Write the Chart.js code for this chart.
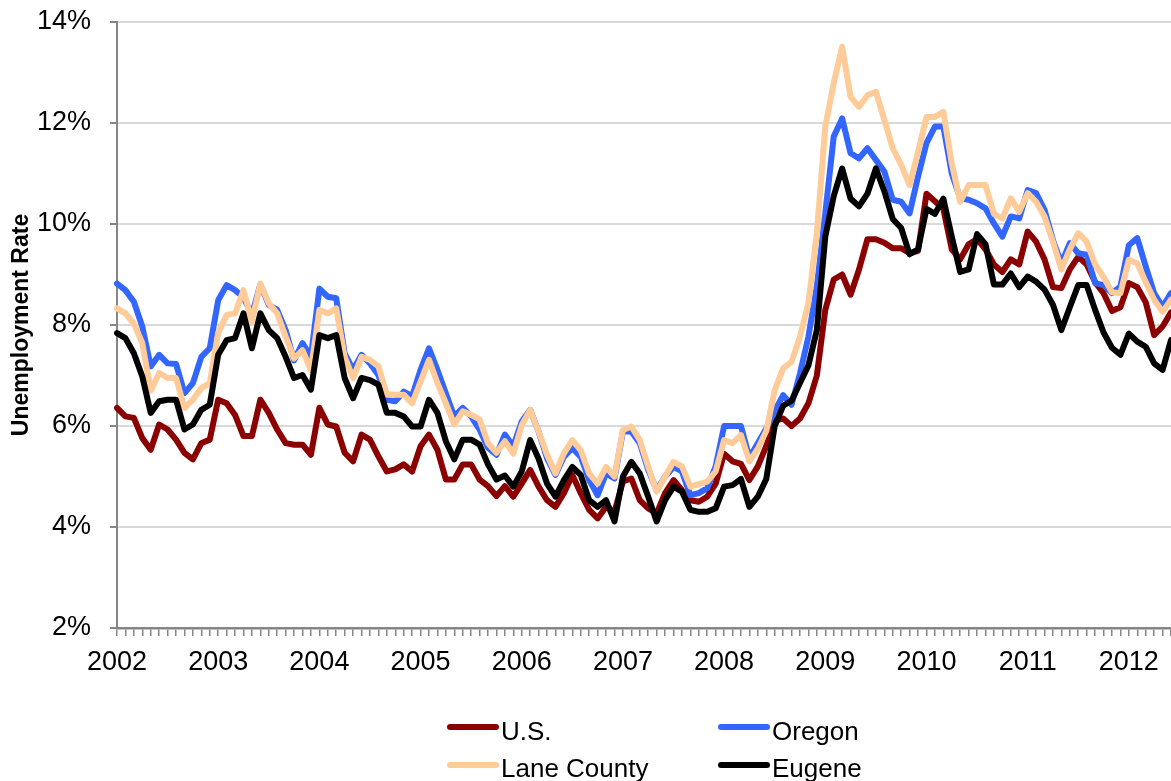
<!DOCTYPE html>
<html>
<head>
<meta charset="utf-8">
<title>Unemployment Rate</title>
<script src="https://cdn.jsdelivr.net/npm/chart.js@4.4.1/dist/chart.umd.min.js"></script>
<style>
  html, body { margin: 0; padding: 0; background: #fff; overflow: hidden; }
  #wrap { position: relative; width: 1171px; height: 781px; }
  .legend-item {
    position: absolute;
    height: 26px;
    font: 26px "Liberation Sans", Arial, sans-serif;
    line-height: 26px;
    color: #000;
    white-space: nowrap;
  }
  .legend-item .swatch { position: absolute; left: 0; width: 52px; height: 6px; border-radius: 3px; }
  .legend-item .name { position: absolute; left: 54px; top: 0; }
</style>
</head>
<body>
<div id="wrap">
  <canvas id="unemploymentChart" width="1171" height="781"></canvas>
  <div id="legend"></div>
</div>
<script>
// Monthly unemployment rates (%), Jan 2002 - Jun 2012
const years = ['2002', '2003', '2004', '2005', '2006', '2007', '2008', '2009', '2010', '2011', '2012'];

const usRate = [
    6.36, 6.19, 6.16, 5.76, 5.53, 6.03, 5.93, 5.73, 5.47, 5.34, 5.66, 5.73,
    6.52, 6.45, 6.22, 5.80, 5.80, 6.52, 6.26, 5.93, 5.66, 5.63, 5.63, 5.43,
    6.36, 6.03, 5.99, 5.47, 5.30, 5.83, 5.73, 5.40, 5.10, 5.14, 5.24, 5.10,
    5.60, 5.83, 5.53, 4.94, 4.94, 5.24, 5.24, 4.94, 4.81, 4.61, 4.81, 4.60,
    4.86, 5.13, 4.80, 4.53, 4.40, 4.67, 5.03, 4.67, 4.34, 4.17, 4.40, 4.30,
    4.90, 4.96, 4.53, 4.37, 4.27, 4.67, 4.93, 4.73, 4.53, 4.50, 4.60, 4.86,
    5.45, 5.30, 5.25, 4.93, 5.20, 5.60, 6.10, 6.15, 6.00, 6.15, 6.45, 7.00,
    8.30, 8.90, 9.00, 8.60, 9.10, 9.70, 9.70, 9.63, 9.52, 9.52, 9.42, 9.47,
    10.60, 10.45, 10.30, 9.50, 9.30, 9.60, 9.70, 9.50, 9.20, 9.05, 9.30, 9.20,
    9.85, 9.65, 9.30, 8.75, 8.73, 9.10, 9.35, 9.20, 8.85, 8.63, 8.28, 8.35,
    8.83, 8.75, 8.45, 7.80, 7.97, 8.25
];

const oregonRate = [
    8.82, 8.69, 8.46, 7.97, 7.18, 7.41, 7.24, 7.23, 6.65, 6.85, 7.37, 7.54,
    8.49, 8.79, 8.69, 8.55, 8.20, 8.80, 8.40, 8.30, 7.90, 7.30, 7.64, 7.37,
    8.72, 8.56, 8.53, 7.44, 7.11, 7.41, 7.24, 7.01, 6.52, 6.49, 6.68, 6.59,
    7.11, 7.54, 7.11, 6.65, 6.19, 6.36, 6.19, 5.93, 5.57, 5.43, 5.83, 5.60,
    6.09, 6.32, 5.89, 5.36, 5.03, 5.39, 5.56, 5.39, 4.93, 4.63, 5.06, 4.96,
    5.89, 5.89, 5.66, 5.13, 4.73, 5.00, 5.19, 5.10, 4.63, 4.67, 4.77, 5.20,
    6.00, 6.00, 6.00, 5.37, 5.66, 5.95, 6.30, 6.61, 6.42, 7.04, 7.77, 8.76,
    10.21, 11.73, 12.09, 11.40, 11.30, 11.50, 11.27, 11.04, 10.48, 10.44, 10.21, 10.94,
    11.60, 11.93, 11.93, 11.00, 10.51, 10.48, 10.41, 10.31, 10.01, 9.75, 10.15, 10.11,
    10.67, 10.61, 10.28, 9.68, 9.22, 9.62, 9.42, 9.39, 8.83, 8.79, 8.63, 8.76,
    9.58, 9.72, 9.16, 8.63, 8.36, 8.63
];

const laneRate = [
    8.33, 8.23, 8.03, 7.64, 6.70, 7.05, 6.95, 6.95, 6.36, 6.52, 6.75, 6.85,
    7.84, 8.20, 8.23, 8.69, 8.07, 8.82, 8.43, 8.23, 7.77, 7.34, 7.50, 7.11,
    8.30, 8.23, 8.33, 7.37, 6.95, 7.37, 7.31, 7.18, 6.62, 6.62, 6.62, 6.45,
    6.88, 7.31, 6.85, 6.45, 6.03, 6.29, 6.22, 6.13, 5.66, 5.47, 5.70, 5.45,
    6.02, 6.32, 5.89, 5.43, 5.06, 5.46, 5.72, 5.52, 5.06, 4.86, 5.19, 5.00,
    5.92, 5.99, 5.72, 5.19, 4.70, 5.00, 5.29, 5.20, 4.80, 4.85, 4.90, 5.10,
    5.72, 5.66, 5.82, 5.30, 5.55, 5.90, 6.71, 7.14, 7.27, 7.77, 8.43, 9.82,
    11.93, 12.79, 13.51, 12.52, 12.32, 12.55, 12.62, 12.06, 11.50, 11.17, 10.77, 11.43,
    12.12, 12.12, 12.22, 11.20, 10.44, 10.77, 10.77, 10.77, 10.20, 10.11, 10.51, 10.24,
    10.61, 10.44, 10.15, 9.65, 9.10, 9.50, 9.82, 9.65, 9.20, 8.95, 8.65, 8.63,
    9.29, 9.22, 8.85, 8.50, 8.26, 8.50
];

const eugeneRate = [
    7.84, 7.74, 7.44, 6.98, 6.26, 6.49, 6.52, 6.52, 5.93, 6.03, 6.32, 6.42,
    7.41, 7.70, 7.74, 8.23, 7.54, 8.23, 7.90, 7.74, 7.37, 6.95, 7.01, 6.72,
    7.80, 7.74, 7.80, 6.95, 6.55, 6.95, 6.91, 6.82, 6.26, 6.26, 6.19, 5.99,
    5.99, 6.52, 6.26, 5.70, 5.34, 5.73, 5.73, 5.63, 5.24, 4.94, 5.02, 4.80,
    5.10, 5.72, 5.35, 4.86, 4.60, 4.93, 5.19, 5.03, 4.53, 4.40, 4.53, 4.11,
    5.00, 5.29, 5.06, 4.60, 4.11, 4.53, 4.80, 4.70, 4.34, 4.30, 4.30, 4.37,
    4.80, 4.83, 4.95, 4.40, 4.60, 4.95, 6.00, 6.40, 6.50, 6.85, 7.20, 7.90,
    9.75, 10.55, 11.10, 10.50, 10.35, 10.60, 11.10, 10.65, 10.10, 9.92, 9.40, 9.50,
    10.30, 10.20, 10.50, 9.75, 9.05, 9.10, 9.80, 9.60, 8.80, 8.80, 9.02, 8.75,
    8.96, 8.86, 8.70, 8.40, 7.90, 8.35, 8.79, 8.79, 8.30, 7.85, 7.55, 7.41,
    7.83, 7.67, 7.57, 7.24, 7.11, 7.70
];

// One label per month, the year shown on each January
const monthLabels = usRate.map((v, i) => (i % 12 === 0 ? years[i / 12] : ''));

const FONT = '"Liberation Sans", Arial, sans-serif';
const AXIS_GRAY = '#868686';

const series = [
    { label: 'U.S.', data: usRate, color: '#8b0000', order: 4 },
    { label: 'Oregon', data: oregonRate, color: '#3366ff', order: 3 },
    { label: 'Lane County', data: laneRate, color: '#ffcc99', order: 2 },
    { label: 'Eugene', data: eugeneRate, color: '#000000', order: 1 }
];

const chartData = {
    labels: monthLabels,
    datasets: series.map(s => ({
        label: s.label,
        data: s.data,
        borderColor: s.color,
        backgroundColor: s.color,
        borderWidth: 6,
        borderJoinStyle: 'round',
        borderCapStyle: 'round',
        pointRadius: 0,
        tension: 0,
        fill: false,
        order: s.order
    }))
};

const chartOptions = {
    responsive: false,
    animation: false,
    layout: { padding: { top: 22, right: 0, bottom: 103, left: 0 } },
    plugins: {
        legend: { display: false },
        tooltip: { enabled: false }
    },
    scales: {
        x: {
            type: 'category',
            offset: false,
            grid: {
                drawOnChartArea: false,
                tickLength: 8,
                color: AXIS_GRAY,
                lineWidth: 1.5
            },
            border: { color: AXIS_GRAY, width: 2.5 },
            ticks: {
                autoSkip: false,
                maxRotation: 0,
                minRotation: 0,
                padding: 10,
                color: '#000',
                font: { family: FONT, size: 27 }
            },
            afterFit: scale => {
                scale.height = 50;
                scale.paddingLeft = 0;
                scale.paddingRight = 0;
            }
        },
        y: {
            min: 2,
            max: 14,
            ticks: {
                stepSize: 2,
                padding: 19,
                color: '#000',
                font: { family: FONT, size: 27 },
                callback: v => v + '%'
            },
            grid: {
                color: '#d9d9d9',
                lineWidth: 2,
                tickColor: AXIS_GRAY,
                tickLength: 7
            },
            border: { color: AXIS_GRAY, width: 2 },
            title: {
                display: true,
                text: 'Unemployment Rate',
                color: '#000',
                font: { family: FONT, size: 23, weight: 'bold' },
                padding: { top: 8, bottom: 0 }
            },
            afterFit: scale => {
                scale.width = 117;
                scale.paddingTop = 0;
                scale.paddingBottom = 0;
            }
        }
    }
};

const ctx = document.getElementById('unemploymentChart').getContext('2d');
const unemploymentChart = new Chart(ctx, {
    type: 'line',
    data: chartData,
    options: chartOptions
});

// Two-column legend below the chart
const legendSpots = [
    { left: 447, top: 718, swatchTop: 6 },
    { left: 718, top: 718, swatchTop: 6 },
    { left: 447, top: 755, swatchTop: 7 },
    { left: 718, top: 755, swatchTop: 7 }
];
const legendEl = document.getElementById('legend');
series.forEach((s, i) => {
    const spot = legendSpots[i];
    const item = document.createElement('div');
    item.className = 'legend-item';
    item.style.left = spot.left + 'px';
    item.style.top = spot.top + 'px';
    item.innerHTML = '<div class="swatch" style="top:' + spot.swatchTop + 'px;background:' + s.color +
        '"></div><span class="name">' + s.label + '</span>';
    legendEl.appendChild(item);
});
</script>
</body>
</html>
